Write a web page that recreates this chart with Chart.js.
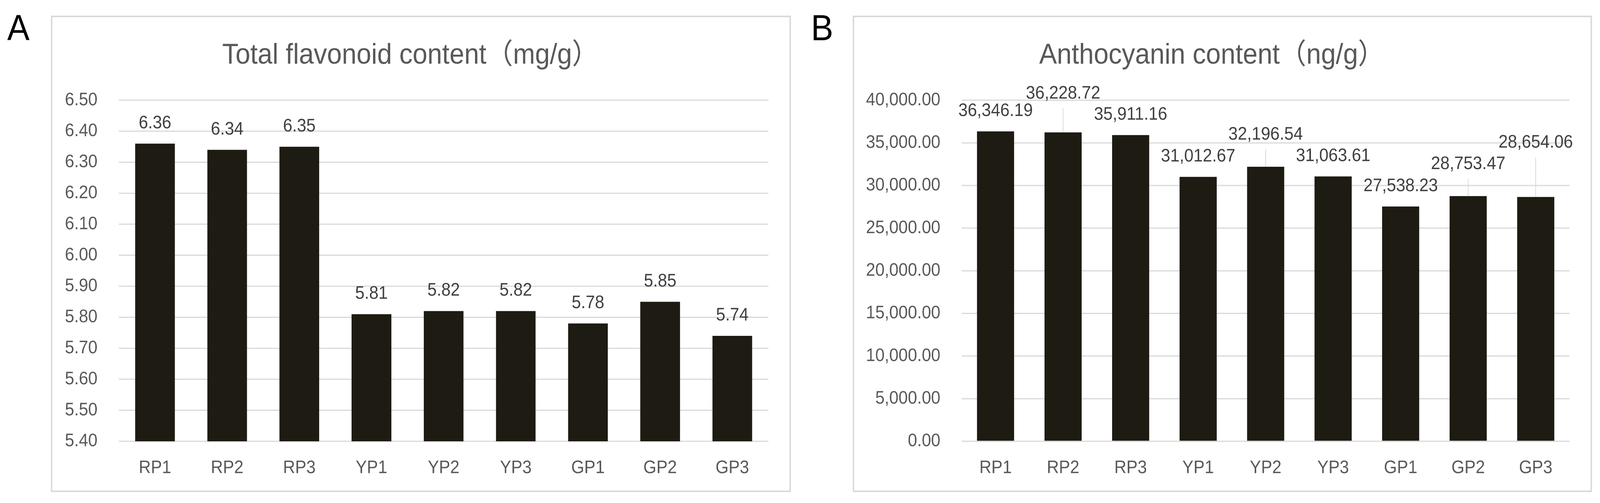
<!DOCTYPE html>
<html>
<head>
<meta charset="utf-8">
<script src="https://cdn.jsdelivr.net/npm/chart.js@4.4.0/dist/chart.umd.min.js"></script>
<style>
  html, body { margin: 0; background: #fff; overflow: hidden; }
  #page { position: absolute; left: 0; top: 0; width: 4400px; height: 1288px; transform-origin: 0 0; }
  .panel { position: absolute; top: 40px; height: 1212px; border: 4px solid #d9d9d9; background: #fff; }
  .letter { position: absolute; top: 25px; font: 92px/1 'Liberation Sans', Arial, sans-serif; color: #000; }
</style>
</head>
<body>
<div id="page">
  <div class="letter" style="left:20px">A</div>
  <div class="panel" style="left:140px;width:2027px"><canvas id="chartA"></canvas></div>
  <div class="letter" style="left:2230px">B</div>
  <div class="panel" style="left:2345px;width:2025px"><canvas id="chartB"></canvas></div>
</div>

<script>
// data
const categories = ['RP1', 'RP2', 'RP3', 'YP1', 'YP2', 'YP3', 'GP1', 'GP2', 'GP3'];
const flavonoid = [6.36, 6.34, 6.35, 5.81, 5.82, 5.82, 5.78, 5.85, 5.74];
const anthocyanin = [36346.19, 36228.72, 35911.16, 31012.67, 32196.54, 31063.61, 27538.23, 28753.47, 28654.06];
const flavonoidAxis = { min: 5.4, max: 6.5, step: 0.1 };
const anthocyaninAxis = { min: 0, max: 40000, step: 5000 };

// extra lift for the labels Excel pushed up (with leader lines) in panel B
const liftB = [0, 47, 0, 0, 30, 0, 0, 30, 87];

const FONT = "'Liberation Sans', 'Noto Sans CJK SC', Arial, sans-serif";
const GREY = '#595959';

// fit the 4400x1288 figure into the viewport we actually get
const sx = window.innerWidth / 4400, sy = window.innerHeight / 1288;
document.getElementById('page').style.transform = `scale(${sx}, ${sy})`;

const fmt2 = v => v.toFixed(2);
const fmtThousands = v => v.toLocaleString('en-US', { minimumFractionDigits: 2, maximumFractionDigits: 2 });

function labelPlugin(format, lift) {
  return {
    id: 'barLabels',
    afterDatasetsDraw(chart) {
      const ctx = chart.ctx;
      const meta = chart.getDatasetMeta(0);
      const values = chart.data.datasets[0].data;
      ctx.save();
      ctx.font = '46px ' + FONT;
      ctx.fillStyle = '#404040';
      ctx.textAlign = 'center';
      ctx.textBaseline = 'middle';
      meta.data.forEach((bar, i) => {
        const up = lift ? lift[i] : 0;
        const y = bar.y - 52 - up;
        if (up > 0) {
          // leader line from the label down to the bar top
          ctx.strokeStyle = '#dcd8cc';
          ctx.lineWidth = 2;
          ctx.beginPath();
          ctx.moveTo(bar.x, y + 38);
          ctx.lineTo(bar.x, bar.y);
          ctx.stroke();
        }
        ctx.fillText(format(values[i]), bar.x, y);
      });
      ctx.restore();
    }
  };
}

function makeChart(id, title, values, axis, tickFmt, yWidth, lift) {
  new Chart(document.getElementById(id), {
    type: 'bar',
    data: {
      labels: categories,
      datasets: [{
        data: values,
        backgroundColor: '#1e1b13',
        borderWidth: 0,
        barPercentage: 0.55,
        categoryPercentage: 1
      }]
    },
    options: {
      responsive: true,
      maintainAspectRatio: false,
      devicePixelRatio: 2,
      animation: false,
      layout: { padding: { left: 0, right: 58, top: 0, bottom: 0 } },
      plugins: {
        legend: { display: false },
        tooltip: { enabled: false },
        title: {
          display: true,
          text: title,
          color: GREY,
          font: { family: FONT, size: 73, weight: 'normal', lineHeight: 1.2 },
          padding: { top: 55, bottom: 70 }
        }
      },
      scales: {
        x: {
          grid: { display: false },
          border: { display: false },
          ticks: { color: GREY, font: { family: FONT, size: 46 }, padding: 33, maxRotation: 0 },
          afterFit: s => { s.height = 126; }
        },
        y: {
          min: axis.min,
          max: axis.max,
          grid: { color: '#d9d9d9', lineWidth: 3, drawTicks: false },
          border: { display: false },
          ticks: {
            stepSize: axis.step,
            color: GREY,
            font: { family: FONT, size: 46 },
            padding: 59,
            callback: v => tickFmt(v)
          },
          afterFit: s => { s.width = yWidth; }
        }
      }
    },
    plugins: [labelPlugin(tickFmt, lift)]
  });
}

makeChart('chartA', 'Total flavonoid content（mg/g）', flavonoid, flavonoidAxis, fmt2, 183, null);
makeChart('chartB', 'Anthocyanin content（ng/g）', anthocyanin, anthocyaninAxis, fmtThousands, 296, liftB);
</script>
</body>
</html>
